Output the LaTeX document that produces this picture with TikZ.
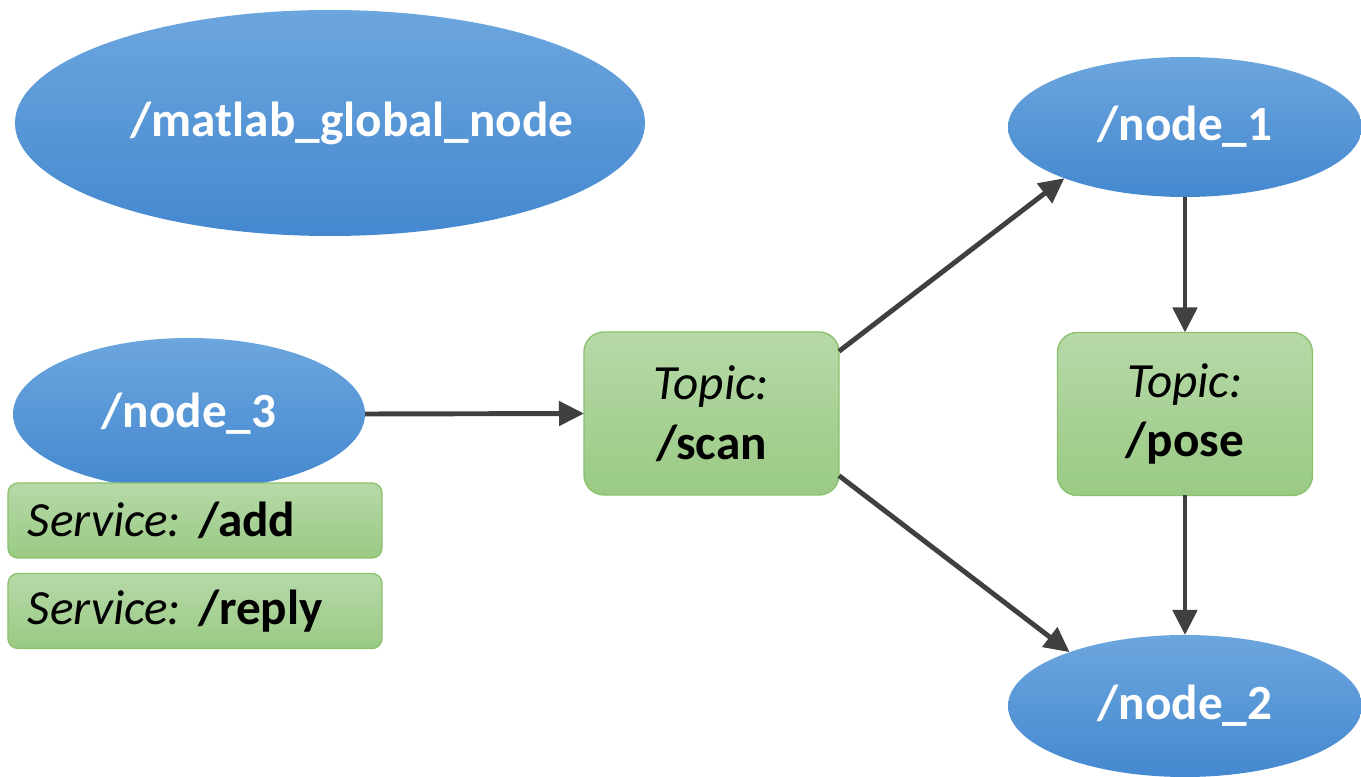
\documentclass[tikz,border=0pt]{standalone}
\usepackage{fontspec}
\setmainfont{Carlito}
\usetikzlibrary{arrows.meta,shapes.geometric}
\definecolor{rosblueA}{RGB}{108,166,222}
\definecolor{rosblueB}{RGB}{68,136,207}
\definecolor{rosgreenA}{RGB}{183,217,168}
\definecolor{rosgreenB}{RGB}{154,202,132}
\definecolor{rosgreenline}{RGB}{140,194,110}
\definecolor{roswirecol}{RGB}{64,64,64}
\tikzset{
  rosnode/.style={ellipse, top color=rosblueA, bottom color=rosblueB, text=white, font=\bfseries\fontsize{14}{17}\selectfont, inner sep=0pt, outer sep=0pt},
  rostopic/.style={rectangle, rounded corners=0.2cm, draw=rosgreenline, thin, top color=rosgreenA, bottom color=rosgreenB, align=center, minimum width=2.55cm, minimum height=1.63cm, outer sep=0pt, font=\fontsize{14}{17}\selectfont},
  rosservice/.style={rectangle, rounded corners=0.1cm, draw=rosgreenline, thin, top color=rosgreenA, bottom color=rosgreenB, minimum width=3.74cm, minimum height=0.75cm, inner xsep=0.2cm, text width=3.34cm, align=left, outer sep=0pt, font=\fontsize{14}{17}\selectfont},
  roswire/.style={draw=roswirecol, line width=1.4pt, -{Triangle[length=0.25cm,width=0.24cm]}}
}

\begin{document}
\begin{tikzpicture}
    \useasboundingbox (0,0) rectangle (13.61,-7.77);

    \node[rosnode, minimum width=6.30cm, minimum height=2.26cm,
      label={[text=white, font=\bfseries\fontsize{14}{17}\selectfont, xshift=0.22cm]center:/matlab\_global\_node}] (global) at (3.30,-1.23) {};
    \node[rosnode, minimum width=3.54cm, minimum height=1.40cm] (n1) at (11.85,-1.27) {/node\_1};
    \node[rosnode, minimum width=3.52cm, minimum height=1.52cm] (n3) at (1.89,-4.14) {/node\_3};
    \node[rosnode, minimum width=3.54cm, minimum height=1.42cm] (n2) at (11.85,-7.06) {/node\_2};

    \node[rosservice] (add) at (1.95,-5.205) {\textit{Service:}\hspace{0.17cm}\textbf{/add}};
    \node[rosservice] (reply) at (1.95,-6.11) {\textit{Service:}\hspace{0.17cm}\textbf{/reply}};

    \node[rostopic] (scan) at (7.115,-4.135) {\textit{Topic:}\\\textbf{/scan}};
    \node[rostopic] (pose) at (11.85,-4.14) {\textit{Topic:}\\\textbf{/pose}};

    \draw[roswire] (n3.east) -- (scan.west);
    \draw[roswire] (scan.26) -- (n1.203);
    \draw[roswire] (scan.334) -- (n2.155);
    \draw[roswire] (n1.south) -- (pose.north);
    \draw[roswire] (pose.south) -- (n2.north);
\end{tikzpicture}
\end{document}
